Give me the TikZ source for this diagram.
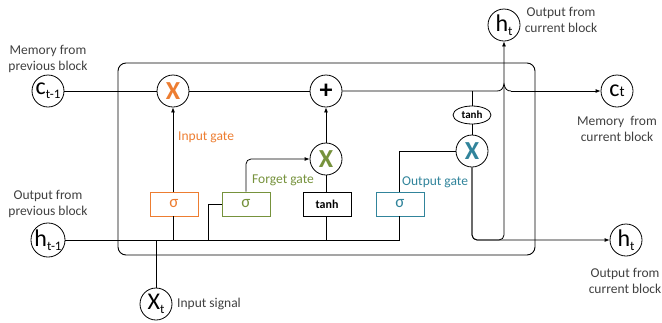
\documentclass[tikz,border=0pt]{standalone}
\usepackage{fontspec}
\setmainfont{Carlito}
\usetikzlibrary{shapes.geometric,arrows.meta}
\definecolor{lgray}{HTML}{404040}
\definecolor{gorange}{HTML}{ED7D31}
\definecolor{ggreen}{HTML}{76923C}
\definecolor{gteal}{HTML}{31849B}
\tikzset{
  cnode/.style={circle,draw,line width=0.8pt,minimum size=32pt,inner sep=0pt,font=\fontsize{24}{24}\selectfont},
  xnode/.style={cnode,font=\fontsize{26}{26}\selectfont\bfseries},
  gatebox/.style={draw,line width=0.8pt,minimum width=48pt,minimum height=24pt,inner sep=0pt,font=\fontsize{17}{17}\selectfont},
  lbl/.style={text=lgray,font=\fontsize{13.5}{16}\selectfont,align=center,inner sep=0pt},
  glbl/.style={font=\fontsize{13.5}{16}\selectfont,inner sep=0pt,anchor=west},
  conn/.style={line width=0.8pt},
  arr/.style={line width=0.8pt,-{Latex[length=5pt,width=4pt]}}
}
\newcommand{\subtxt}[1]{{\fontsize{13}{13}\selectfont\raisebox{-4pt}{#1}}}
\begin{document}
\begin{tikzpicture}[x=1pt,y=-1pt]
\useasboundingbox (0,0) rectangle (662,322);
% big block
\draw[line width=0.9pt,rounded corners=8pt] (118,63) rectangle (535,255);
% circles
\node[cnode] (cprev) at (48,91) {c\subtxt{t-1}};
\node[cnode] (hprev) at (48,240) {h\subtxt{t-1}};
\node[cnode] (xt) at (156,304) {X\subtxt{t}};
\node[xnode,text=gorange] (inX) at (173,91) {X};
\node[xnode] (plus) at (326,91) {+};
\node[xnode,text=ggreen] (fX) at (326,159) {X};
\node[xnode,text=gteal] (oX) at (472,151) {X};
\node[cnode] (ct) at (617,91) {c{\fontsize{15}{15}\selectfont t}};
\node[cnode] (htT) at (504,25) {h\subtxt{t}};
\node[cnode] (htR) at (626,240) {h\subtxt{t}};
\node[ellipse,draw,line width=0.8pt,minimum width=38pt,minimum height=18pt,inner sep=0pt,font=\fontsize{11}{11}\selectfont\bfseries] (tanhE) at (472,115) {tanh};
% gate boxes
\node[gatebox,draw=gorange,text=gorange] (iSig) at (174,204) {σ};
\node[gatebox,draw=ggreen,text=ggreen] (fSig) at (246,204) {σ};
\node[gatebox,font=\fontsize{12}{12}\selectfont\bfseries] (tanhB) at (327,204) {tanh};
\node[gatebox,draw=gteal,text=gteal] (oSig) at (400,204) {σ};
% coordinates
\coordinate (ihb) at (173,240);
\coordinate (fhb) at (208,240);
\coordinate (fhc) at (208,204);
\coordinate (thb) at (326,240);
\coordinate (ohb) at (399,240);
\coordinate (ost) at (399,216);
\coordinate (osn) at (399,192);
\coordinate (ohc) at (399,151);
\coordinate (xtj) at (156,240);
\coordinate (hop1) at (497,91);
\coordinate (hop2) at (511,91);
\coordinate (mtap) at (472,91);
\coordinate (ubl) at (472,240);
\coordinate (ubr) at (504,240);
\coordinate (isn) at (173,192);
\coordinate (iss) at (173,216);
\coordinate (tbn) at (326,192);
\coordinate (tbs) at (326,216);
% memory line
\draw[conn] (cprev) -- (inX);
\draw[conn] (inX) -- (plus);
\draw[conn] (plus) -- (hop1) .. controls (501,91) and (503,89) .. (504,84)
  .. controls (505,89) and (507,91) .. (hop2);
\draw[arr] (hop2) -- (ct);
% hidden line
\draw[conn] (hprev) -- (ohb) -- (ost);
\draw[conn] (xt) -- (xtj);
% input gate
\draw[conn] (iss) -- (ihb);
\draw[arr] (isn) -- (inX);
% forget gate
\draw[conn] (fhb) -- (fhc) -- (fSig.west);
\draw[arr,rounded corners=5pt] (fSig.north) |- (fX);
% tanh candidate
\draw[conn] (tbs) -- (thb);
\draw[conn] (tbn) -- (fX);
\draw[arr] (fX) -- (plus);
% output gate
\draw[conn] (osn) -- (ohc) -- (oX);
\draw[conn] (mtap) -- (tanhE);
\draw[conn] (tanhE) -- (oX);
\draw[arr,rounded corners=5pt] (oX) |- (htR);
\draw[arr,rounded corners=5pt] (oX) -- (ubl) -- (ubr) -- (htT);
% labels
\node[lbl] (l1) at (48,59) {Memory from\\previous block};
\node[lbl] (l2) at (48,204) {Output from\\previous block};
\node[lbl,anchor=west] (l3) at (177,304) {Input signal};
\node[glbl,text=gorange] (l4) at (178,137) {Input gate};
\node[glbl,text=ggreen] (l5) at (252,180) {Forget gate};
\node[glbl,text=gteal] (l6) at (402,182) {Output gate};
\node[lbl] (l7) at (561,20) {Output from\\current block};
\node[lbl] (l8) at (617,129) {Memory\ \ from\\current block};
\node[lbl] (l9) at (625,281) {Output from\\current block};
\end{tikzpicture}
\end{document}
